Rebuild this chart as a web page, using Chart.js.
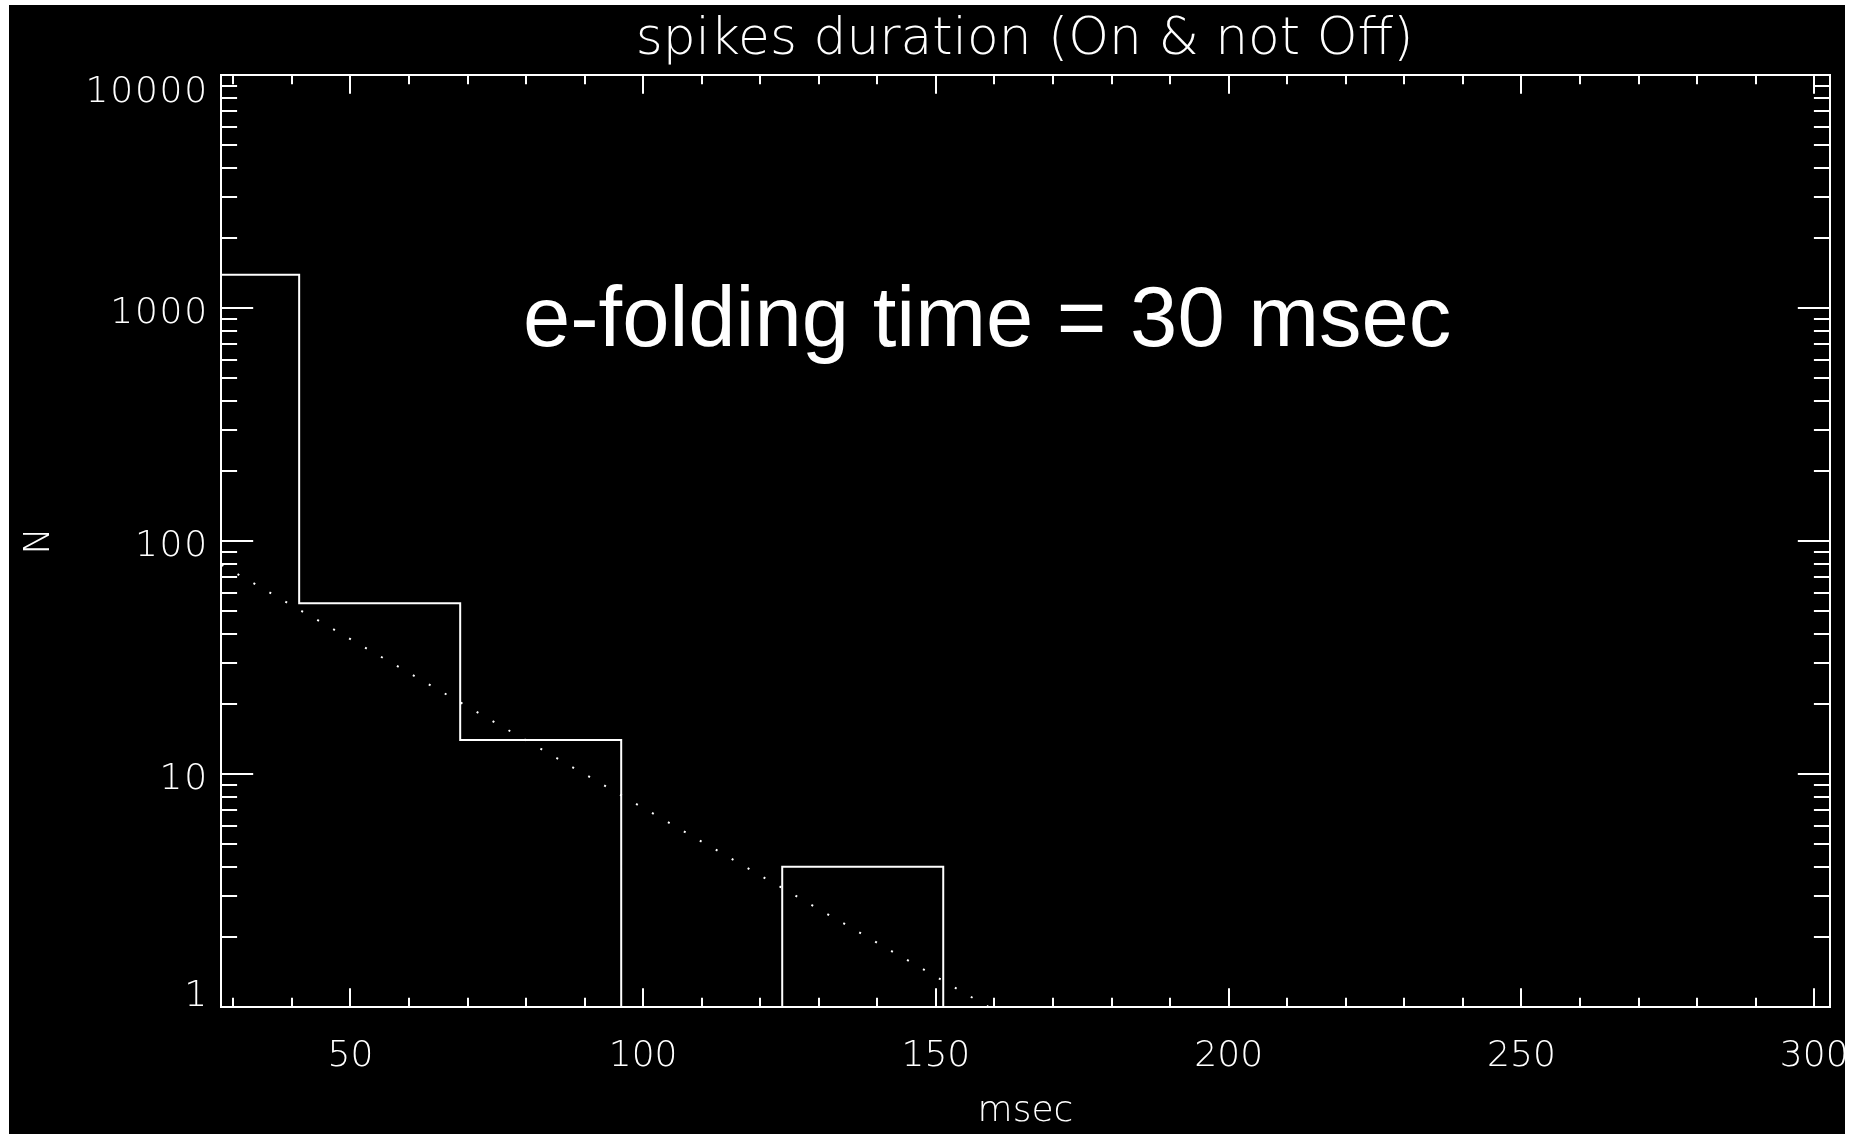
<!DOCTYPE html>
<html>
<head>
<meta charset="utf-8">
<title>spikes duration (On &amp; not Off)</title>
<script src="https://cdn.jsdelivr.net/npm/chart.js@4/dist/chart.umd.min.js"></script>
<style>
  html, body { margin: 0; padding: 0; background: #fff; overflow: hidden; }
  canvas { display: block; }
</style>
</head>
<body>
<canvas id="chart" width="1859" height="1134" style="width:1859px;height:1134px"></canvas>
<script>
// Histogram of spike durations: bin centres (msec) and counts per bin
const binCenters = [27.5, 55, 82.5, 110, 137.5, 165, 192.5, 220, 247.5, 275, 302.5];
const binCounts  = [1390, 54, 14, 1, 4, 1, 1, 1, 1, 1, 1];

// Exponential fit, e-folding time 30 msec (a straight line on the log axis)
const fitTimes  = [28, 159];
const fitCounts = [79, 1];

// Axis ranges and ticks
const xRange = [27.9, 302.7];
const xMajorTicks = [50, 100, 150, 200, 250, 300];
const xMinorTicks = [30, 40, 60, 70, 80, 90, 110, 120, 130, 140, 160, 170, 180, 190,
                     210, 220, 230, 240, 260, 270, 280, 290];
const yRange = [1, 10000];
const yDecades = [1, 10, 100, 1000, 10000];
const yMinorMultipliers = [2, 3, 4, 5, 6, 7, 8, 9];

const titleText = 'spikes duration (On & not Off)';
const xTitle = 'msec';
const yTitle = 'N';
const noteText = 'e-folding time = 30 msec';

const W = 1859, H = 1134;
const tickFamily = "'DejaVu Sans', 'DejaVu Sans ExtraLight', sans-serif";
const axisFont = { family: tickFamily, size: 36, weight: '200' };

const xTickValues = [...xMajorTicks, ...xMinorTicks].sort((a, b) => a - b);
const yTickValues = [];
yDecades.forEach(d => {
  yTickValues.push(d);
  if (d < yRange[1]) yMinorMultipliers.forEach(m => yTickValues.push(d * m));
});

// Frame with inward ticks on all four sides, labels, titles, annotation and page border
const idlFrame = {
  id: 'idlFrame',
  beforeDraw(chart) {
    const ctx = chart.ctx;
    ctx.save();
    ctx.fillStyle = '#000';
    ctx.fillRect(0, 0, W, H);
    ctx.restore();
  },
  afterDatasetsDraw(chart) {
    const { ctx, chartArea: a, scales: { x, y } } = chart;
    const xMaj = 0.02 * (a.bottom - a.top);
    const yMaj = 0.02 * (a.right - a.left);
    ctx.save();
    ctx.strokeStyle = '#fff';
    ctx.lineWidth = 2;
    ctx.strokeRect(a.left, a.top, a.right - a.left, a.bottom - a.top);
    ctx.beginPath();
    x.ticks.forEach(t => {
      const px = Math.round(x.getPixelForValue(t.value));
      const len = xMajorTicks.includes(t.value) ? xMaj : xMaj / 2;
      ctx.moveTo(px, a.bottom); ctx.lineTo(px, a.bottom - len);
      ctx.moveTo(px, a.top);    ctx.lineTo(px, a.top + len);
    });
    y.ticks.forEach(t => {
      const py = Math.round(y.getPixelForValue(t.value));
      const len = yDecades.includes(t.value) ? yMaj : yMaj / 2;
      ctx.moveTo(a.left, py);  ctx.lineTo(a.left + len, py);
      ctx.moveTo(a.right, py); ctx.lineTo(a.right - len, py);
    });
    ctx.stroke();
    ctx.restore();
  },
  afterDraw(chart) {
    const { ctx, chartArea: a, scales: { y } } = chart;
    const cx = (a.left + a.right) / 2;
    ctx.save();
    ctx.fillStyle = '#fff';

    // decade labels on the log axis, kept inside the frame at both ends
    ctx.font = `200 36px ${tickFamily}`;
    ctx.textAlign = 'right';
    ctx.textBaseline = 'middle';
    ctx.letterSpacing = '1.8px';
    yDecades.forEach(v => {
      const half = 13.5;
      let gy = y.getPixelForValue(v) + 3.5;
      gy = Math.min(Math.max(gy, a.top + half + 2), a.bottom - half + 1);
      ctx.fillText(String(v), a.left - 12, gy + 2.4);
    });
    ctx.letterSpacing = '0px';

    // plot title, sized to its printed width
    ctx.textAlign = 'center';
    ctx.textBaseline = 'alphabetic';
    ctx.font = `200 40px ${tickFamily}`;
    const tSize = 40 * 778 / ctx.measureText(titleText).width;
    ctx.font = `200 ${tSize}px ${tickFamily}`;
    ctx.fillText(titleText, cx - 1, 54);

    // axis titles
    ctx.font = `200 36px ${tickFamily}`;
    ctx.fillText(xTitle, cx, 1121);
    ctx.save();
    ctx.translate(49, (a.top + a.bottom) / 2);
    ctx.rotate(-Math.PI / 2);
    ctx.fillText(yTitle, 0, 0);
    ctx.restore();

    // annotation
    ctx.font = "85px 'Liberation Sans', Arial, sans-serif";
    ctx.textAlign = 'left';
    ctx.fillText(noteText, 523, 346);

    // white page border
    ctx.fillRect(0, 0, 9, H);
    ctx.fillRect(0, 0, W, 5);
    ctx.fillRect(1845, 0, W - 1845, H);
    ctx.restore();
  }
};

new Chart(document.getElementById('chart'), {
  type: 'line',
  data: {
    datasets: [
      {
        label: 'N',
        data: binCenters.map((t, i) => ({ x: t, y: binCounts[i] })),
        stepped: 'middle',
        borderColor: '#fff',
        borderWidth: 2,
        pointRadius: 0,
        fill: false
      },
      {
        label: 'fit',
        data: fitTimes.map((t, i) => ({ x: t, y: fitCounts[i] })),
        borderColor: '#fff',
        borderWidth: 2,
        borderDash: [2, 16.4],
        borderCapStyle: 'butt',
        pointRadius: 0,
        fill: false
      }
    ]
  },
  options: {
    responsive: false,
    animation: false,
    events: [],
    layout: { padding: { top: 75, right: 29, left: 0, bottom: 0 } },
    plugins: { legend: { display: false }, title: { display: false }, tooltip: { enabled: false } },
    scales: {
      x: {
        type: 'linear',
        min: xRange[0],
        max: xRange[1],
        grid: { display: false, drawTicks: false },
        border: { display: false },
        afterBuildTicks: s => { s.ticks = xTickValues.map(v => ({ value: v })); },
        afterFit: s => { s.height = 127; s.paddingLeft = 0; s.paddingRight = 0; },
        ticks: {
          autoSkip: false,
          maxRotation: 0,
          minRotation: 0,
          padding: 28,
          color: '#fff',
          font: axisFont,
          callback: v => (xMajorTicks.includes(v) ? String(v) : '')
        }
      },
      y: {
        type: 'logarithmic',
        min: yRange[0],
        max: yRange[1],
        grid: { display: false, drawTicks: false },
        border: { display: false },
        afterBuildTicks: s => { s.ticks = yTickValues.map(v => ({ value: v })); },
        afterFit: s => { s.width = 221; s.paddingTop = 0; s.paddingBottom = 0; },
        ticks: { display: false }
      }
    }
  },
  plugins: [idlFrame]
});
</script>
</body>
</html>
